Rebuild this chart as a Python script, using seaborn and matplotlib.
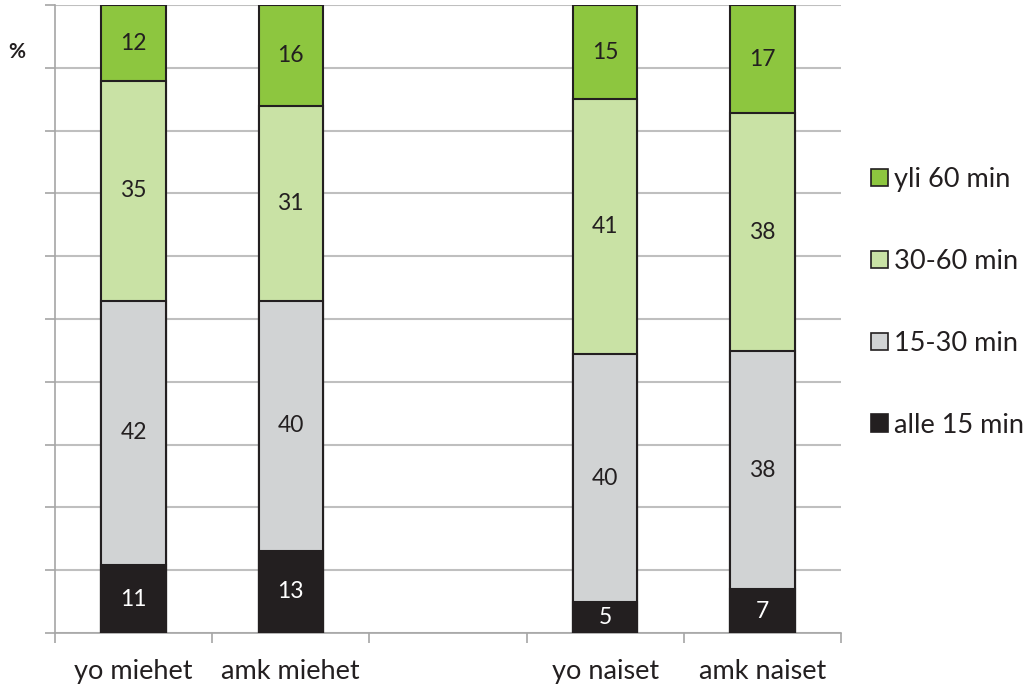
import numpy as np
import pandas as pd
import seaborn as sns
import matplotlib.pyplot as plt
from matplotlib.patches import Patch


# Data (segment shares in %)
groups = ["yo miehet", "amk miehet", "yo naiset", "amk naiset"]
positions = [0, 1, 3, 4]          # empty slot between men and women
segments = ["alle 15 min", "15-30 min", "30-60 min", "yli 60 min"]
alle15 = [10.8, 13.1, 4.9, 7.0]
min15_30 = [42.1, 39.8, 39.5, 37.9]
min30_60 = [35.0, 31.0, 40.6, 37.9]
yli60 = [12.1, 16.1, 15.0, 17.2]

colors = ["#231F20", "#D1D3D4", "#C9E2A5", "#8DC63F"]
text_colors = ["white", "#231F20", "#231F20", "#231F20"]
edge = "#231F20"

sns.set_theme(style="white")
plt.rcParams["font.family"] = ["Lato", "DejaVu Sans"]

df = pd.DataFrame({"pos": positions, "group": groups,
                   "alle 15 min": alle15, "15-30 min": min15_30,
                   "30-60 min": min30_60, "yli 60 min": yli60})
cum = df[segments].cumsum(axis=1)

fig = plt.figure(figsize=(10.33, 6.87), dpi=100)
ax = fig.add_axes([0.0532, 0.0786, 0.7609, 0.9141])

# Stack by overlaying cumulative totals, tallest first
for i in reversed(range(len(segments))):
    seg = segments[i]
    sns.barplot(x=df["pos"], y=cum[seg], native_scale=True, width=0.41,
                color=colors[i], saturation=1, edgecolor=edge, linewidth=1.5,
                ax=ax, zorder=3)
    for p, top, val in zip(df["pos"], cum[seg], df[seg]):
        ax.text(p, min(top, 100) - val / 2, f"{round(val):d}", ha="center",
                va="center", fontsize=16.5, color=text_colors[i], zorder=4)

ax.set_xlim(-0.5, 4.5)
ax.set_ylim(0, 100)
ax.set_xlabel("")
ax.set_ylabel("")

# y axis: gridlines every 10, no labels
ax.set_yticks(np.arange(0, 101, 10))
ax.set_yticklabels([])
ax.yaxis.grid(True, color="#BFBFBF", linewidth=1.5, zorder=0)
ax.set_axisbelow(True)
ax.tick_params(axis="y", length=7, width=1.2, color="#A6A6A6", direction="out", left=True)

# x axis: tick marks at category boundaries, labels at bar centres
ax.set_xticks(positions)
ax.set_xticklabels(groups, fontsize=19.5, color="#231F20")
ax.set_xticks(np.arange(-0.5, 5, 1), minor=True)
ax.tick_params(axis="x", which="major", length=0, pad=19)
ax.tick_params(axis="x", which="minor", length=7, width=1.2, color="#A6A6A6",
               direction="out", bottom=True)

for s in ["top", "right"]:
    ax.spines[s].set_visible(False)
for s in ["left", "bottom"]:
    ax.spines[s].set_color("#A6A6A6")
    ax.spines[s].set_linewidth(1.2)

fig.text(0.0165, 0.924, "%", fontsize=15, fontweight="bold", color="#231F20",
         ha="center", va="center")

handles = [Patch(facecolor=colors[i], edgecolor=edge, linewidth=1.2, label=segments[i])
           for i in reversed(range(len(segments)))]
fig.legend(handles=handles, loc="center left", bbox_to_anchor=(0.8435, 0.56),
           frameon=False, fontsize=19.5, handlelength=0.6, handleheight=0.6,
           handletextpad=0.25, labelspacing=2.1, borderpad=0, borderaxespad=0,
           labelcolor="#231F20")

fig.savefig("out.png", dpi=100)
